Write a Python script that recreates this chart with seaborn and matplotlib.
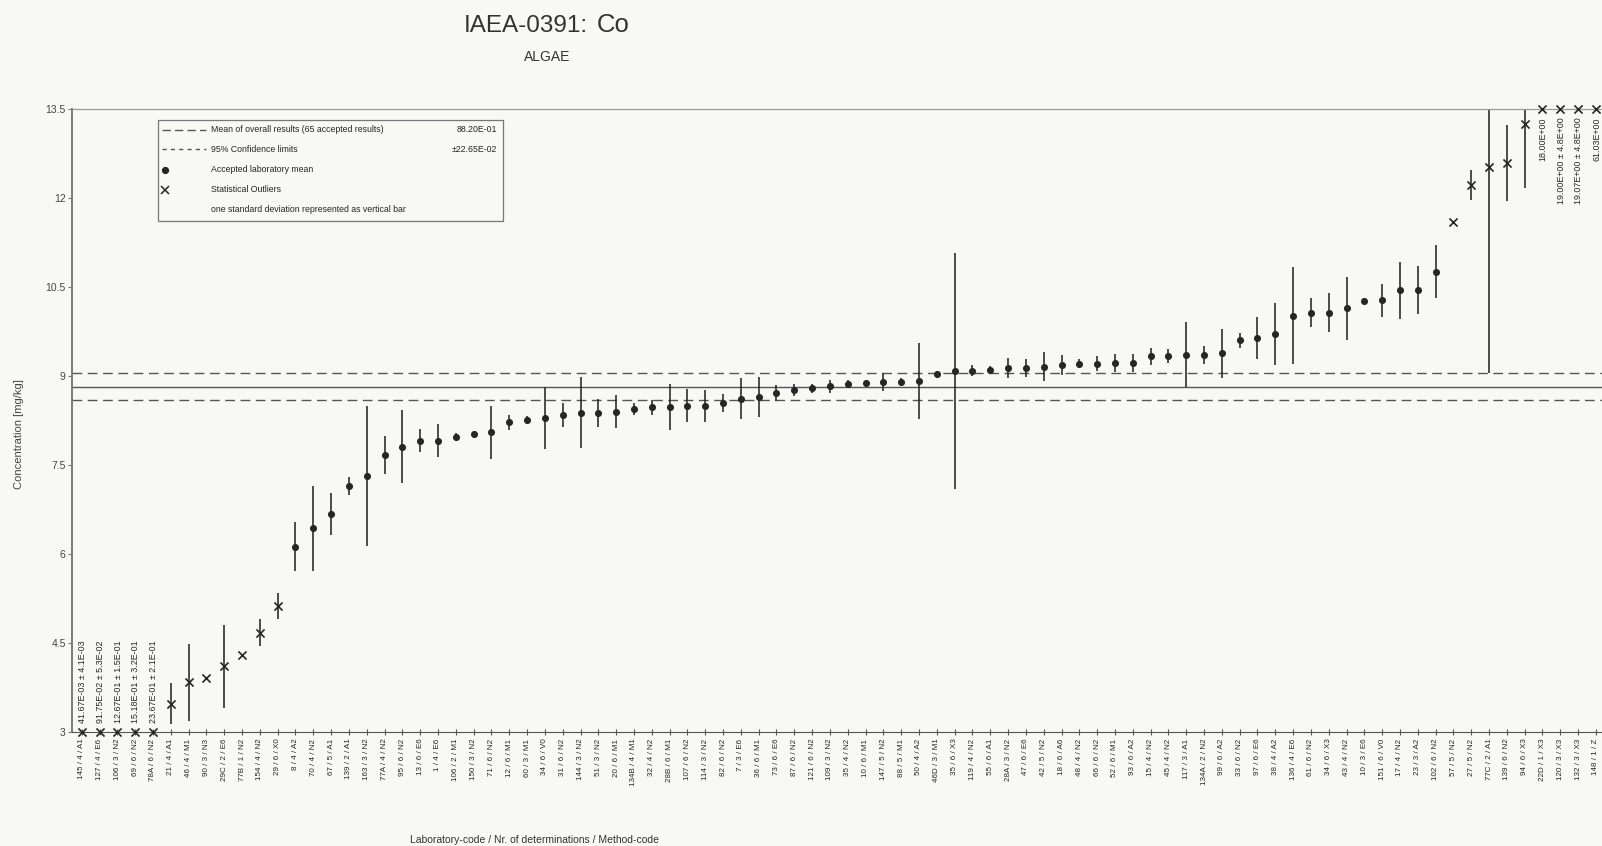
import numpy as np
import pandas as pd
import matplotlib
matplotlib.use("Agg")
import matplotlib.pyplot as plt
import seaborn as sns
from matplotlib.lines import Line2D
from matplotlib.patches import Rectangle

# ---------------------------------------------------------------- data
lab_labels = [
    "145 / 4 / A1", "127 / 4 / E6", "106 / 3 / N2", "69 / 6 / N2", "78A / 6 / N2",
    "21 / 4 / A1", "46 / 4 / M1", "90 / 3 / N3", "29C / 2 / E6", "77B / 1 / N2",
    "154 / 4 / N2", "29 / 6 / X0", "8 / 4 / A2", "70 / 4 / N2", "67 / 5 / A1",
    "139 / 2 / A1", "163 / 3 / N2", "77A / 4 / N2", "95 / 6 / N2", "13 / 6 / E6",
    "1 / 4 / E6", "106 / 2 / M1", "150 / 3 / N2", "71 / 6 / N2", "12 / 6 / M1",
    "60 / 3 / M1", "34 / 6 / V0", "31 / 6 / N2", "144 / 3 / N2", "51 / 3 / N2",
    "20 / 6 / M1", "134B / 4 / M1", "32 / 4 / N2", "28B / 6 / M1", "107 / 6 / N2",
    "114 / 3 / N2", "82 / 6 / N2", "7 / 3 / E6", "36 / 6 / M1", "73 / 6 / E6",
    "87 / 6 / N2", "121 / 6 / N2", "109 / 3 / N2", "35 / 4 / N2", "10 / 6 / M1",
    "147 / 5 / N2", "88 / 5 / M1", "50 / 4 / A2", "46D / 3 / M1", "35 / 6 / X3",
    "119 / 4 / N2", "55 / 6 / A1", "28A / 3 / N2", "47 / 6 / E6", "42 / 5 / N2",
    "18 / 6 / A6", "48 / 4 / N2", "66 / 6 / N2", "52 / 6 / M1", "93 / 6 / A2",
    "15 / 4 / N2", "45 / 4 / N2", "117 / 3 / A1", "134A / 2 / N2", "99 / 6 / A2",
    "33 / 6 / N2", "97 / 6 / E6", "38 / 4 / A2", "136 / 4 / E6", "61 / 6 / N2",
    "34 / 6 / X3", "43 / 4 / N2", "10 / 3 / E6", "151 / 6 / V0", "17 / 4 / N2",
    "23 / 3 / A2", "102 / 6 / N2", "57 / 5 / N2", "27 / 5 / N2", "77C / 2 / A1",
    "139 / 6 / N2", "94 / 6 / X3", "22D / 1 / X3", "120 / 3 / X3", "132 / 3 / X3",
    "148 / 1 / Z",
]

lab_means = [
    0.04167, 0.9175, 1.267, 1.518, 2.367,
    3.47, 3.83, 3.91, 4.10, 4.29,
    4.67, 5.12, 6.12, 6.43, 6.67,
    7.14, 7.31, 7.66, 7.81, 7.91,
    7.91, 7.97, 8.02, 8.05, 8.22,
    8.26, 8.29, 8.34, 8.38, 8.38,
    8.40, 8.45, 8.47, 8.48, 8.50,
    8.50, 8.55, 8.62, 8.64, 8.71,
    8.76, 8.79, 8.83, 8.86, 8.88,
    8.90, 8.90, 8.91, 9.03, 9.09,
    9.09, 9.10, 9.14, 9.14, 9.16,
    9.19, 9.21, 9.21, 9.22, 9.22,
    9.33, 9.34, 9.36, 9.36, 9.38,
    9.60, 9.64, 9.71, 10.02, 10.07,
    10.07, 10.14, 10.26, 10.28, 10.45,
    10.45, 10.76, 11.60, 12.22, 12.52,
    12.59, 13.26, 18.00, 19.00, 19.07,
    61.03,
]

lab_sds = [
    0.0041, 0.053, 0.15, 0.32, 0.21,
    0.35, 0.65, 0.0, 0.70, 0.0,
    0.23, 0.22, 0.41, 0.72, 0.35,
    0.15, 1.18, 0.32, 0.62, 0.20,
    0.28, 0.06, 0.05, 0.45, 0.13,
    0.07, 0.53, 0.20, 0.60, 0.24,
    0.28, 0.10, 0.12, 0.39, 0.28,
    0.27, 0.15, 0.34, 0.34, 0.14,
    0.10, 0.08, 0.11, 0.07, 0.06,
    0.15, 0.07, 0.64, 0.06, 1.99,
    0.09, 0.07, 0.17, 0.15, 0.25,
    0.17, 0.08, 0.12, 0.15, 0.15,
    0.15, 0.12, 0.55, 0.15, 0.41,
    0.13, 0.36, 0.53, 0.82, 0.24,
    0.33, 0.53, 0.05, 0.28, 0.48,
    0.41, 0.45, 0.0, 0.25, 3.47,
    0.64, 1.08, 0.0, 4.8, 4.8,
    0.0,
]

# statistical outliers: first twelve and last nine laboratories
lab_status = ["outlier"] * 12 + ["accepted"] * 65 + ["outlier"] * 9

overall_mean = 8.82
confidence_half_width = 0.2265

y_ticks = [3, 4.5, 6, 7.5, 9, 10.5, 12, 13.5]
y_tick_labels = ["3", "4.5", "6", "7.5", "9", "10.5", "12", "13.5"]
Y_MIN, Y_MAX = 3.0, 13.5

# ---------------------------------------------------------------- helpers
def fmt_value(v):
    e = int(np.floor(np.log10(v))) - 1
    return f"{v / 10**e:.2f}E{e:+03d}"


def fmt_sd(v):
    e = int(np.floor(np.log10(v)))
    return f"{v / 10**e:.1f}E{e:+03d}"


# ---------------------------------------------------------------- style
BG = "#f8f8f5"
INK = "#262626"
GREY = "#6a6a6a"

sns.set_theme(style="white")
plt.rcParams["font.family"] = ["Liberation Sans", "DejaVu Sans"]

df = pd.DataFrame({
    "pos": np.arange(len(lab_labels)),
    "label": lab_labels,
    "value": lab_means,
    "sd": lab_sds,
    "status": lab_status,
})
df["shown"] = df["value"].clip(Y_MIN, Y_MAX)

fig = plt.figure(figsize=(16.02, 8.46), dpi=100, facecolor=BG)
W, H = 1602.0, 846.0
ax = fig.add_axes([72 / W, (H - 731.6) / H, 1530 / W, (731.6 - 109.3) / H])
ax.set_facecolor(BG)

# overall mean and confidence limits
ax.axhline(overall_mean, color="#555555", lw=1.0, zorder=1)
for s in (-1, 1):
    ax.axhline(overall_mean + s * confidence_half_width, color="#555555",
               lw=1.0, ls=(0, (7, 4)), zorder=1)

# one standard deviation bars
bars = df[df["sd"] > 0]
ax.vlines(bars["pos"], bars["value"] - bars["sd"], bars["value"] + bars["sd"],
          color=INK, lw=1.15, zorder=2)

# laboratory means
sns.scatterplot(data=df[df["status"] == "accepted"], x="pos", y="shown",
                marker="o", s=26, color=INK, linewidth=0, ax=ax,
                zorder=3, legend=False)
sns.scatterplot(data=df[df["status"] == "outlier"], x="pos", y="shown",
                marker="x", s=34, color=INK, linewidth=1.2, ax=ax,
                zorder=4, legend=False, clip_on=False)

# values outside the plotted range are written next to their marker
for _, r in df.iterrows():
    if r["value"] < Y_MIN or r["value"] > Y_MAX:
        txt = fmt_value(r["value"])
        if r["sd"] > 0:
            txt += " \u00b1 " + fmt_sd(r["sd"])
        low = r["value"] < Y_MIN
        ax.annotate(txt, (r["pos"], r["shown"]),
                    xytext=(0.5, 6 if low else -6), textcoords="offset points",
                    rotation=90, ha="center", va="bottom" if low else "top",
                    fontsize=6.4, color=INK, annotation_clip=False)

ax.set_xlim(-0.545, 85.34)
ax.set_ylim(Y_MIN, Y_MAX)
ax.set_xticks(df["pos"])
ax.set_xticklabels(df["label"], rotation=90, fontsize=5.8, color=INK)
ax.set_yticks(y_ticks)
ax.set_yticklabels(y_tick_labels, fontsize=7.5, color="#444444")
ax.tick_params(axis="x", direction="inout", length=4, width=0.8,
               color="#555555", pad=3, bottom=True)
ax.tick_params(axis="y", direction="out", length=3, width=0.8,
               color="#777777", pad=1.5, left=True)
ax.set_xlabel("")
ax.set_ylabel("")

ax.spines["right"].set_visible(False)
ax.spines["left"].set_color("#7a7a7a")
ax.spines["left"].set_linewidth(1.4)
ax.spines["bottom"].set_color("#555555")
ax.spines["bottom"].set_linewidth(0.8)
ax.spines["top"].set_color("#999999")
ax.spines["top"].set_linewidth(0.9)

# axis titles
fig.text(19 / W, 1 - 434 / H, "Concentration [mg/kg]", rotation=90,
         ha="center", va="center", fontsize=8, color="#444444")
fig.text(534 / W, 1 - 840 / H,
         "Laboratory-code / Nr. of determinations / Method-code",
         ha="center", va="center", fontsize=7.5, color="#333333")

# heading
fig.text(464 / W, 1 - 26 / H, "IAEA-0391:", ha="left", va="center",
         fontsize=17.5, color="#333333")
fig.text(597 / W, 1 - 25 / H, "Co", ha="left", va="center",
         fontsize=18.5, color="#333333")
fig.text(547 / W, 1 - 57 / H, "ALGAE", ha="center", va="center",
         fontsize=10, color="#333333")

# key
def fx(x):
    return x / W


def fy(y):
    return 1 - y / H


fig.add_artist(Rectangle((fx(158), fy(221)), fx(503) - fx(158), fy(120) - fy(221),
                         transform=fig.transFigure, fill=False,
                         edgecolor="#777777", lw=0.9))
rows = [130, 149, 170, 190, 210]
fig.add_artist(Line2D([fx(162), fx(206)], [fy(rows[0])] * 2, transform=fig.transFigure,
                      color="#555555", lw=1.0, ls=(0, (6, 3))))
fig.add_artist(Line2D([fx(162), fx(206)], [fy(rows[1])] * 2, transform=fig.transFigure,
                      color="#555555", lw=1.0, ls=(0, (3, 3))))
fig.add_artist(Line2D([fx(165)], [fy(rows[2])], transform=fig.transFigure,
                      marker="o", ms=4.2, color=INK, lw=0))
fig.add_artist(Line2D([fx(165)], [fy(rows[3])], transform=fig.transFigure,
                      marker="x", ms=5.2, mew=1.1, color=INK, lw=0))
key_texts = [
    "Mean of overall results (65 accepted results)",
    "95% Confidence limits",
    "Accepted laboratory mean",
    "Statistical Outliers",
    "one standard deviation represented as vertical bar",
]
for y, t in zip(rows, key_texts):
    fig.text(fx(211), fy(y), t, ha="left", va="center", fontsize=6.3, color=INK)
fig.text(fx(497), fy(rows[0]), fmt_value(overall_mean), ha="right", va="center",
         fontsize=6.3, color=INK)
fig.text(fx(497), fy(rows[1]), "\u00b1" + fmt_value(confidence_half_width),
         ha="right", va="center", fontsize=6.3, color=INK)

fig.savefig("out.png", dpi=100, facecolor=BG)
